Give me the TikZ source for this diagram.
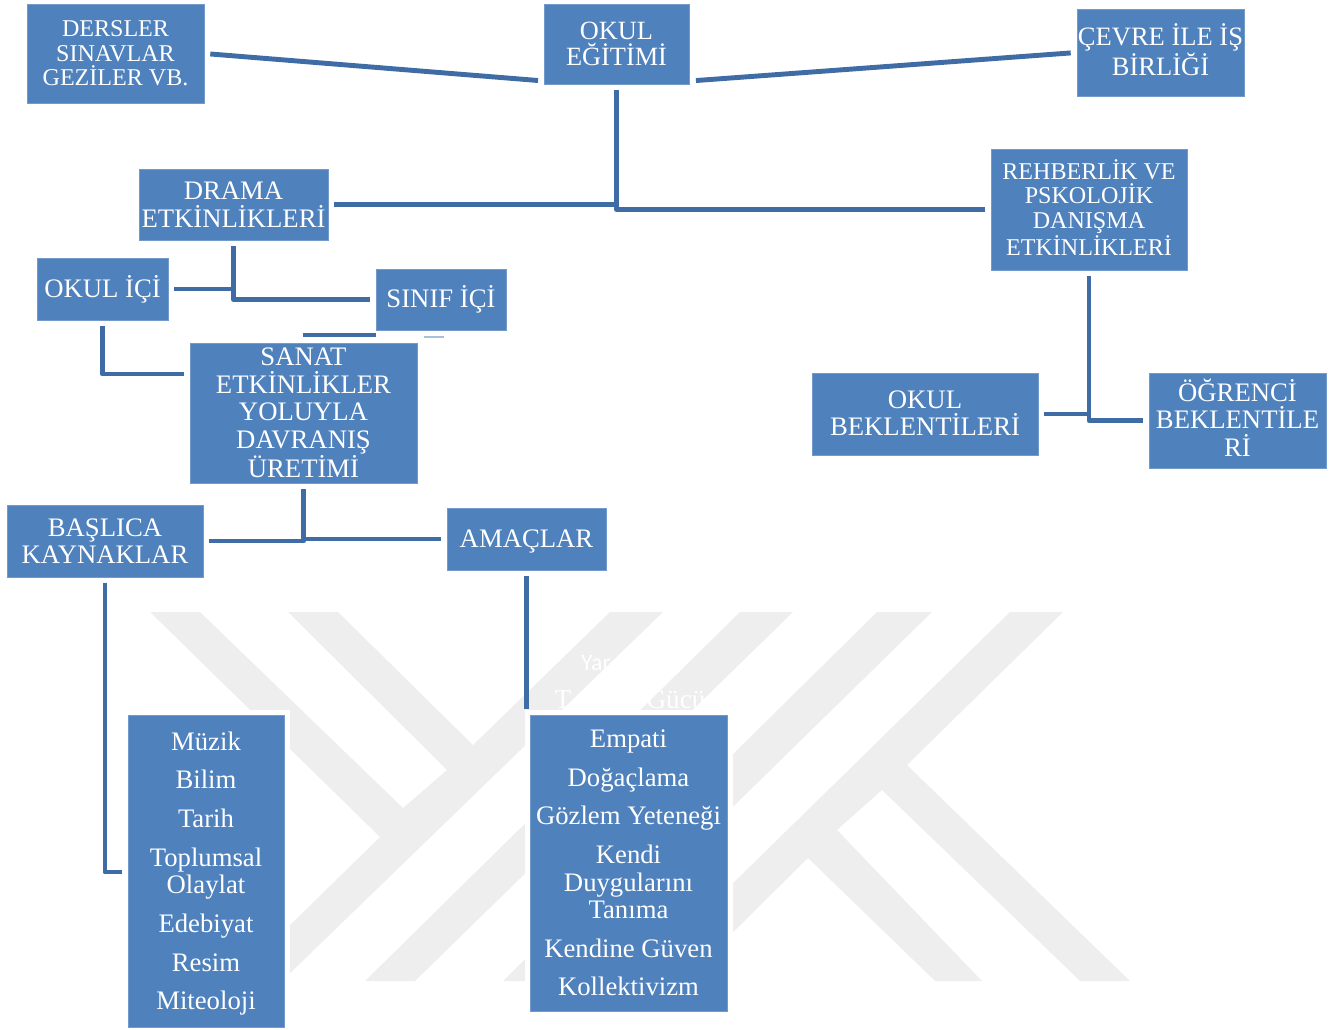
\documentclass[tikz,border=0pt]{standalone}
\usepackage{fontspec}
\setmainfont{Liberation Serif}
\newfontfamily\ghostfont{Carlito}
\usepackage{xcolor}
\definecolor{boxblue}{HTML}{4F81BD}
\definecolor{lineblue}{HTML}{3F6CA5}
\definecolor{markgray}{HTML}{EEEEEE}
\def\pxu{0.02cm}
\newcommand{\lastdepth}[1]{\rule[-#1]{0pt}{0pt}}
\newcommand{\firsttall}[1]{\rule{0pt}{#1}}
\tikzset{
  bigbox/.style={fill=boxblue,draw=boxblue!80!white,line width=.4pt,text=white,align=center,inner sep=0pt,font=\fontsize{15.2}{15.7}\selectfont},
  smallbox/.style={bigbox,font=\fontsize{13.7}{13.9}\selectfont},
  midbox/.style={bigbox,font=\fontsize{15}{14.9}\selectfont},
  link/.style={draw=lineblue,line width=2.8pt,line join=round},
  gaplink/.style={link,shorten <=3.4pt,shorten >=3.4pt},
  startgap/.style={link,shorten <=3.4pt},
  endgap/.style={link,shorten >=3.4pt},
  ghost/.style={text=white,inner sep=0pt,font=\fontsize{15.5}{15.7}\selectfont}
}
\begin{document}
\begin{tikzpicture}[x=0.02cm,y=-0.02cm]
\useasboundingbox (0,0) rectangle (1338,1030);

% watermark
\fill [markgray] (150,612) -- (200,612) -- (403,808) -- (447,770) -- (288,612) -- (338,612) -- (473,745) -- (610,612) -- (663,612) -- (282,981) -- (233,981) -- (380,837) -- cycle;
\fill [markgray] (740,612) -- (793,612) -- (415,981) -- (365,981) -- cycle;
\fill [markgray] (877,612) -- (932,612) -- (555,981) -- (503,981) -- cycle;
\fill [markgray] (1010,612) -- (1063,612) -- (907,765) -- (1130,981) -- (1080,981) -- (882,790) -- (837,830) -- (982,981) -- (935,981) -- (808,858) -- (684,981) -- (633,981) -- cycle;

\node [ghost,font=\ghostfont\fontsize{13.5}{14}\selectfont] (yar) at (596,663) {Yar};
\node [ghost] (tee) at (563,700) {T};
\node [ghost] (gucu) at (676,700) {Gücü};

% white round the two lists
\fill [white] (123,710) rectangle (290,1030);
\fill [white] (525,710) rectangle (733,1014);

% top row
\node [smallbox,minimum width=177*\pxu,minimum height=99*\pxu] (dersler) at (115.5,53.5) {DERSLER\\SINAVLAR\\GEZİLER VB.};
\node [midbox,minimum width=145*\pxu,minimum height=80*\pxu] (okul) at (616.5,44) {OKUL\\EĞİTİMİ};
\node [midbox,minimum width=167*\pxu,minimum height=87*\pxu,font=\fontsize{15.1}{14.7}\selectfont] (cevre) at (1160.5,52.5) {ÇEVRE İLE İŞ\\BİRLİĞİ\lastdepth{3.4pt}};
\coordinate (okulleft) at (544,81);
\coordinate (okulright) at (690,81);
\draw [gaplink] (dersler.east) -- (okulleft);
\draw [gaplink] (okulright) -- (cevre.west);

% second row
\node [bigbox,minimum width=189*\pxu,minimum height=71*\pxu] (drama) at (233.5,204.5) {DRAMA\\ETKİNLİKLERİ};
\node [smallbox,minimum width=196*\pxu,minimum height=121*\pxu] (rehberlik) at (1089,209.5) {REHBERLİK VE\\PSKOLOJİK\\DANIŞMA\\ETKİNLİKLERİ\lastdepth{2.4pt}};
\draw [gaplink] (okul.south) |- (rehberlik.west);
\draw [startgap] (drama.east) -- (drama.east -| okul.south);

% drama branches
\node [bigbox,minimum width=131*\pxu,minimum height=62*\pxu] (okulici) at (102.5,289) {OKUL İÇİ};
\node [bigbox,minimum width=130*\pxu,minimum height=61*\pxu] (sinif) at (441,299.5) {SINIF İÇİ};
\node [bigbox,minimum width=227*\pxu,minimum height=140*\pxu] (sanat) at (303.5,413) {SANAT\\ETKİNLİKLER\\YOLUYLA\\DAVRANIŞ\\ÜRETİMİ};
\coordinate (sanatleft) at (190,374);
\coordinate (stubleft) at (303,335);
\coordinate (paleleft) at (424,337);
\coordinate (paleright) at (444,337);
\draw [gaplink] (drama.south) |- (sinif.west);
\draw [startgap] (okulici.east) -- (okulici.east -| drama.south);
\draw [gaplink] (okulici.south) |- (sanatleft);
\draw [link] (stubleft) -- (stubleft -| sinif.west);
\draw [boxblue!50!white,line width=.8pt] (paleleft) -- (paleright);

% right side
\node [bigbox,minimum width=226*\pxu,minimum height=82*\pxu] (okulbek) at (925,414) {OKUL\\BEKLENTİLERİ\lastdepth{1pt}};
\node [bigbox,minimum width=177*\pxu,minimum height=95*\pxu] (ogrenci) at (1237.5,420.5) {ÖĞRENCİ\\BEKLENTİLE\\Rİ\lastdepth{3.2pt}};
\draw [gaplink] (rehberlik.south) |- (ogrenci.west);
\draw [startgap] (okulbek.east) -- (okulbek.east -| rehberlik.south);

% below sanat
\node [bigbox,minimum width=196*\pxu,minimum height=72*\pxu] (baslica) at (105,541) {BAŞLICA\\KAYNAKLAR};
\node [bigbox,minimum width=159*\pxu,minimum height=62*\pxu,text depth=0pt] (amaclar) at (526.5,539) {AMAÇLAR};
\draw [gaplink] (sanat.south) |- (baslica.east);
\draw [endgap] (sanat.south |- amaclar.west) -- (amaclar.west);

% lists
\node [bigbox,minimum width=156*\pxu,minimum height=312*\pxu] (kaynaklist) at (206,871) {\firsttall{13.4pt}Müzik\\[6.3pt]Bilim\\[6.3pt]Tarih\\[6.3pt]Toplumsal\\Olaylat\\[6.3pt]Edebiyat\\[6.3pt]Resim\\[6.3pt]Miteoloji};
\node [bigbox,minimum width=197*\pxu,minimum height=296*\pxu] (amaclist) at (628.5,863) {Empati\\[6.3pt]Doğaçlama\\[6.3pt]Gözlem Yeteneği\\[6.3pt]Kendi\\Duygularını\\Tanıma\\[6.3pt]Kendine Güven\\[6.3pt]Kollektivizm};
\coordinate (kaynakleft) at (128,872);
\draw [gaplink] (baslica.south) |- (kaynakleft);
\draw [gaplink] (amaclar.south) -- (amaclar.south |- amaclist.north);
\end{tikzpicture}
\end{document}
